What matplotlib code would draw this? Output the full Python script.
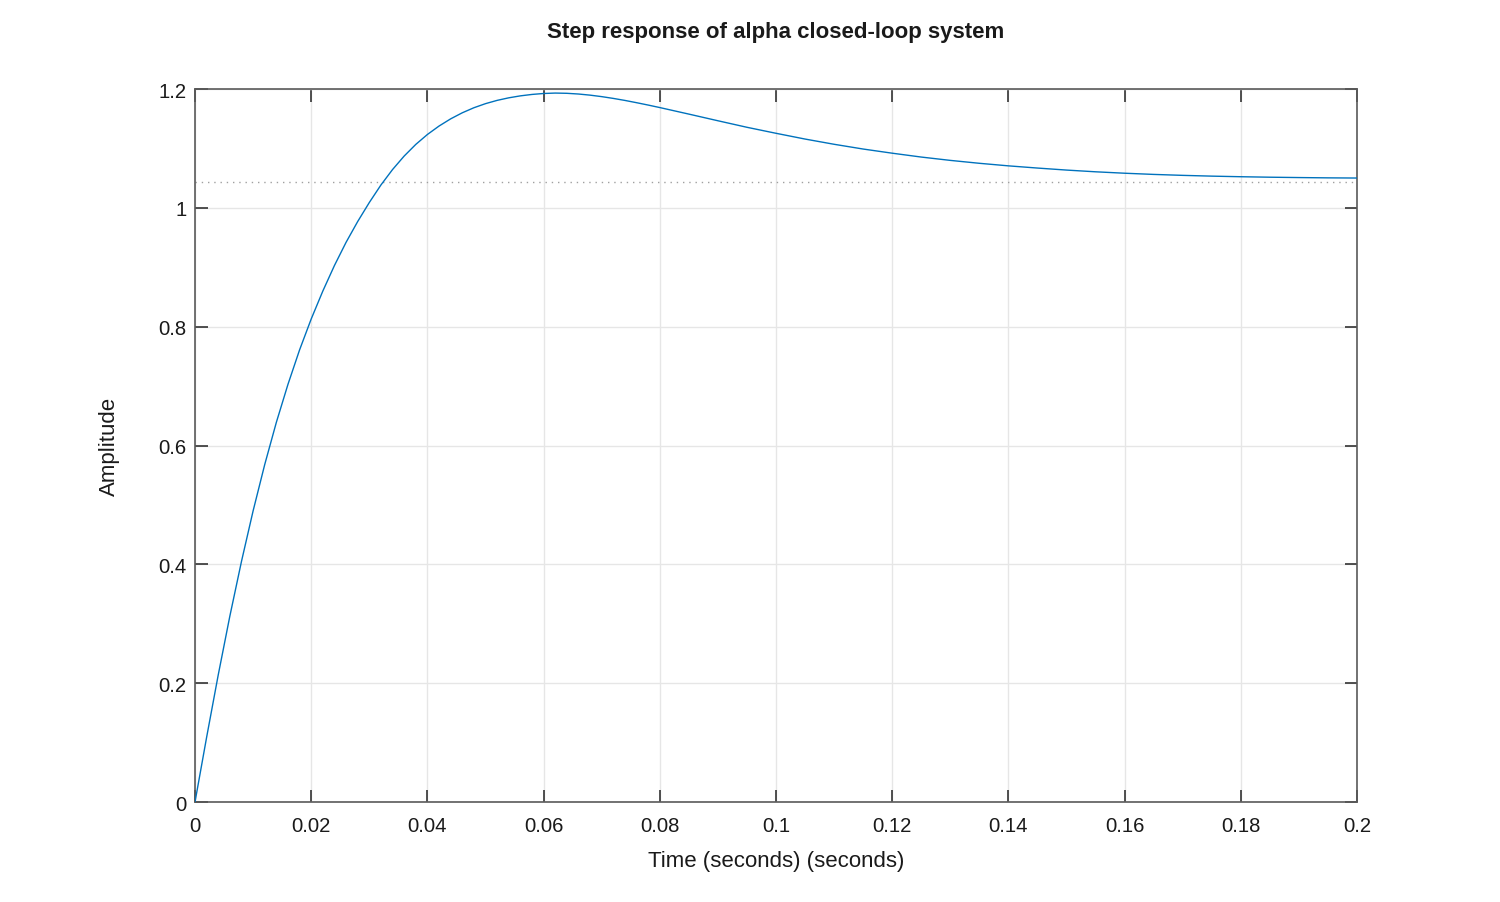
import matplotlib
matplotlib.use("Agg")
import matplotlib.pyplot as plt
from matplotlib.ticker import FuncFormatter

plt.rcParams['font.family'] = ['Liberation Sans', 'DejaVu Sans']

# Step response samples
time_s = [0.000, 0.002, 0.004, 0.006, 0.008, 0.010, 0.012, 0.014, 0.016, 0.018,
          0.020, 0.022, 0.024, 0.026, 0.028, 0.030, 0.032, 0.034, 0.036, 0.038,
          0.040, 0.042, 0.044, 0.046, 0.048, 0.050, 0.052, 0.054, 0.056, 0.058,
          0.060, 0.062, 0.064, 0.066, 0.068, 0.070, 0.072, 0.074, 0.076, 0.078,
          0.080, 0.085, 0.090, 0.095, 0.100, 0.105, 0.110, 0.115, 0.120, 0.125,
          0.130, 0.135, 0.140, 0.145, 0.150, 0.155, 0.160, 0.165, 0.170, 0.175,
          0.180, 0.185, 0.190, 0.195, 0.200]
amplitude = [0.0000, 0.1090, 0.2140, 0.3130, 0.4050, 0.4900, 0.5680, 0.6390, 0.7030, 0.7610,
             0.8130, 0.8600, 0.9030, 0.9420, 0.9770, 1.0090, 1.0385, 1.0645, 1.0872, 1.1068,
             1.1235, 1.1377, 1.1498, 1.1600, 1.1685, 1.1754, 1.1809, 1.1852, 1.1885, 1.1909,
             1.1925, 1.1932, 1.1928, 1.1916, 1.1897, 1.1872, 1.1842, 1.1808, 1.1770, 1.1730,
             1.1688, 1.1578, 1.1466, 1.1356, 1.1255, 1.1158, 1.1070, 1.0990, 1.0920, 1.0855,
             1.0799, 1.0750, 1.0707, 1.0670, 1.0636, 1.0607, 1.0583, 1.0563, 1.0547, 1.0534,
             1.0524, 1.0516, 1.0510, 1.0505, 1.0502]
steady_state = 1.044

x_ticks = [0, 0.02, 0.04, 0.06, 0.08, 0.1, 0.12, 0.14, 0.16, 0.18, 0.2]
y_ticks = [0, 0.2, 0.4, 0.6, 0.8, 1.0, 1.2]

title = "Step response of alpha closed-loop system"
x_label = "Time (seconds) (seconds)"
y_label = "Amplitude"

fig = plt.figure(figsize=(15, 9.03), dpi=100)
ax = fig.add_axes([0.13, 0.1107, 0.7747, 0.7896])

ax.plot(time_s, amplitude, color='#0072BD', linewidth=1.0, zorder=3)
ax.axhline(steady_state, color='#a0a0a0', linestyle=(0, (1, 3.5)), linewidth=1.0, zorder=2)

ax.set_xlim(0, 0.2)
ax.set_ylim(0, 1.2)
ax.set_xticks(x_ticks)
ax.set_yticks(y_ticks)
fmt = FuncFormatter(lambda v, p: f"{v:g}")
ax.xaxis.set_major_formatter(fmt)
ax.yaxis.set_major_formatter(fmt)

ax.grid(True, color='#e6e6e6', linewidth=1.0, zorder=0)
ax.set_axisbelow(True)

for s in ax.spines.values():
    s.set_color('#5a5a5a')
    s.set_linewidth(1.2)

ax.tick_params(axis='both', which='major', direction='in', length=9, width=1.2,
               color='#333333', top=True, right=True, labelsize=14.6,
               labelcolor='#1a1a1a')
ax.tick_params(axis='x', pad=10)
ax.tick_params(axis='y', pad=6)

ax.set_title(title, fontsize=16, fontweight='bold', pad=37.5, color='#1a1a1a')
ax.set_xlabel(x_label, fontsize=16, labelpad=10.5, color='#1a1a1a')
ax.set_ylabel(y_label, fontsize=16, labelpad=28, color='#1a1a1a')

fig.savefig("out.png", dpi=100, facecolor='white')
